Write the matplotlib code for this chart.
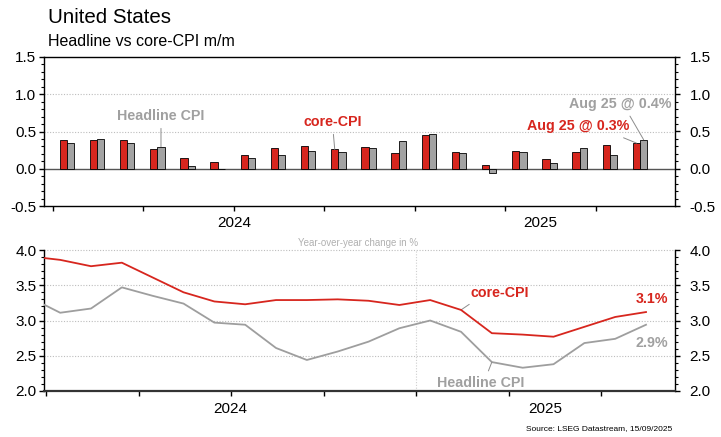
import matplotlib

matplotlib.use("Agg")
import matplotlib.pyplot as plt
import matplotlib.transforms as mtransforms
import numpy as np

plt.rcParams["font.family"] = ["Liberation Sans", "DejaVu Sans"]

RED = "#d7261e"
GREY = "#a3a3a3"
GREY_TXT = "#a0a0a0"

# Dec 2023 .. Aug 2025, monthly
MONTHS = ["Dec 23", "Jan 24", "Feb 24", "Mar 24", "Apr 24", "May 24", "Jun 24",
          "Jul 24", "Aug 24", "Sep 24", "Oct 24", "Nov 24", "Dec 24", "Jan 25",
          "Feb 25", "Mar 25", "Apr 25", "May 25", "Jun 25", "Jul 25", "Aug 25"]
CORE_MM = [0.29, 0.38, 0.38, 0.39, 0.26, 0.15, 0.09, 0.18, 0.285, 0.31, 0.26,
           0.295, 0.21, 0.45, 0.22, 0.045, 0.235, 0.13, 0.22, 0.32, 0.345]
HEADLINE_MM = [0.22, 0.345, 0.40, 0.345, 0.295, 0.04, -0.01, 0.14, 0.18, 0.235,
               0.22, 0.28, 0.37, 0.47, 0.21, -0.055, 0.22, 0.077, 0.285, 0.19, 0.39]
CORE_YY = [3.91, 3.86, 3.77, 3.82, 3.61, 3.40, 3.27, 3.23, 3.29, 3.29, 3.30,
           3.28, 3.22, 3.29, 3.15, 2.82, 2.80, 2.77, 2.91, 3.05, 3.12]
HEADLINE_YY = [3.33, 3.11, 3.17, 3.47, 3.35, 3.24, 2.97, 2.94, 2.61, 2.44, 2.56,
               2.70, 2.89, 3.00, 2.84, 2.41, 2.33, 2.38, 2.68, 2.74, 2.94]

# months counted from 1 Jan 2024, points sit mid-month
pos = np.arange(len(MONTHS)) - 1 + 0.46
BAR_W = 0.24
QUARTERS = np.arange(0, 21, 3)


def style_axis(ax, ylim, yticks, right_pad):
    ax.set_ylim(*ylim)
    ax.set_yticks(yticks)
    ax.set_yticks(np.arange(ylim[0], ylim[1] + 0.001, 0.1), minor=True)
    ax.yaxis.set_major_formatter(matplotlib.ticker.FormatStrFormatter("%.1f"))
    ax.set_xticks(QUARTERS)
    ax.set_xticklabels([])
    ax.tick_params(axis="both", which="major", direction="out", length=3.5,
                   width=1, labelsize=11, pad=2)
    ax.tick_params(axis="y", which="minor", direction="out", length=2, width=0.8)
    for s in ax.spines.values():
        s.set_linewidth(1)
    twin = ax.twinx()
    twin.set_ylim(*ylim)
    twin.set_yticks(yticks)
    twin.set_yticks(np.arange(ylim[0], ylim[1] + 0.001, 0.1), minor=True)
    twin.yaxis.set_major_formatter(matplotlib.ticker.FormatStrFormatter("%.1f"))
    twin.tick_params(axis="y", which="major", direction="out", length=3.5,
                     width=1, labelsize=11, pad=right_pad)
    twin.tick_params(axis="y", which="minor", direction="out", length=2, width=0.8)
    for s in twin.spines.values():
        s.set_visible(False)
    return twin


fig = plt.figure(figsize=(7.21, 4.37), dpi=100)
ax1 = fig.add_axes([44 / 721, 1 - 206 / 437, 631 / 721, 149 / 437])
ax2 = fig.add_axes([44 / 721, 1 - 391 / 437, 631 / 721, 141 / 437])

# --- top: m/m bars
ax1.set_xlim(-0.298, 20.62)
ax1.bar(pos - BAR_W / 2, CORE_MM, BAR_W, color=RED, edgecolor="black", linewidth=0.6, zorder=3)
ax1.bar(pos + BAR_W / 2, HEADLINE_MM, BAR_W, color=GREY, edgecolor="black", linewidth=0.6, zorder=3)
ax1.axhline(0, color="#555555", linewidth=1, zorder=2)
for g in (0.5, 1.0):
    ax1.axhline(g, color="#bdbdbd", linewidth=0.8, linestyle=(0, (1, 1.5)), zorder=1)
style_axis(ax1, (-0.5, 1.5), [-0.5, 0.0, 0.5, 1.0, 1.5], 7)

ann = dict(fontsize=10.3, fontweight="bold", ha="center", va="center")
line = dict(arrowstyle="-", color="#8c8c8c", linewidth=0.7, shrinkA=2, shrinkB=0)
ax1.annotate("Headline CPI", xy=(pos[4] + BAR_W / 2, HEADLINE_MM[4]), xytext=(pos[4] + BAR_W / 2, 0.71),
             color=GREY_TXT, arrowprops=dict(line, relpos=(0.5, 0)), **ann)
ax1.annotate("core-CPI", xy=(pos[10] - BAR_W / 2, CORE_MM[10]), xytext=(9.28, 0.63),
             color=RED, arrowprops=dict(line, relpos=(0.5, 0)), **ann)
ax1.annotate("Aug 25 @ 0.4%", xy=(pos[-1] + BAR_W / 2, HEADLINE_MM[-1]), xytext=(18.79, 0.87),
             color=GREY_TXT, arrowprops=dict(line, relpos=(0.57, 0)), **ann)
ax1.annotate("Aug 25 @ 0.3%", xy=(pos[-1] - BAR_W / 2, CORE_MM[-1]), xytext=(17.4, 0.575),
             color=RED, arrowprops=dict(line, relpos=(0.83, 0), shrinkA=4), **ann)

tr1 = mtransforms.blended_transform_factory(ax1.transData, ax1.transAxes)
ax1.text(6.0, -0.114, "2024", transform=tr1, ha="center", va="center", fontsize=11)
ax1.text(16.15, -0.114, "2025", transform=tr1, ha="center", va="center", fontsize=11)

# --- bottom: y/y lines
ax2.set_xlim(-0.065, 20.40)
for g in (2.5, 3.0, 3.5, 4.0):
    ax2.axhline(g, color="#bdbdbd", linewidth=0.8, linestyle=(0, (1, 1.5)), zorder=1, clip_on=False)
ax2.axvline(12, color="#cfcfcf", linewidth=0.8, linestyle=(0, (1, 1.5)), zorder=1)
ax2.plot(pos, HEADLINE_YY, color="#9e9e9e", linewidth=1.3, zorder=3)
ax2.plot(pos, CORE_YY, color=RED, linewidth=1.3, zorder=4)
style_axis(ax2, (2.0, 4.0), [2.0, 2.5, 3.0, 3.5, 4.0], 7)
ax2.spines["top"].set_visible(False)
ax2.spines["bottom"].set_linewidth(1.6)
ax2.spines["bottom"].set_color("#333333")

ax2.annotate("core-CPI", xy=(pos[14], CORE_YY[14]), xytext=(14.73, 3.39), color=RED,
             arrowprops=dict(line, relpos=(0.08, 0)), **ann)
ax2.annotate("Headline CPI", xy=(pos[15], HEADLINE_YY[15]), xytext=(14.11, 2.11), color=GREY_TXT,
             arrowprops=dict(line, relpos=(0.56, 1)), **ann)
ax2.text(19.66, 3.305, "3.1%", color=RED, fontsize=10.3, fontweight="bold", ha="center", va="center")
ax2.text(19.66, 2.68, "2.9%", color=GREY_TXT, fontsize=10.3, fontweight="bold", ha="center", va="center")

tr2 = mtransforms.blended_transform_factory(ax2.transData, ax2.transAxes)
ax2.text(5.98, -0.128, "2024", transform=tr2, ha="center", va="center", fontsize=11)
ax2.text(16.18, -0.128, "2025", transform=tr2, ha="center", va="center", fontsize=11)

fig.text(298 / 721, 1 - 243 / 437, "Year-over-year change in %", color="#b0b0b0",
         fontsize=7, ha="left", va="center")
fig.text(48 / 721, 1 - 22.7 / 437, "United States", fontsize=14.8, ha="left", va="baseline")
fig.text(48 / 721, 1 - 46 / 437, "Headline vs core-CPI m/m", fontsize=11.5, ha="left", va="baseline")
fig.text(672 / 721, 1 - 429 / 437, "Source: LSEG Datastream, 15/09/2025", fontsize=6,
         ha="right", va="center")

fig.savefig("out.png", dpi=100, facecolor="white")
